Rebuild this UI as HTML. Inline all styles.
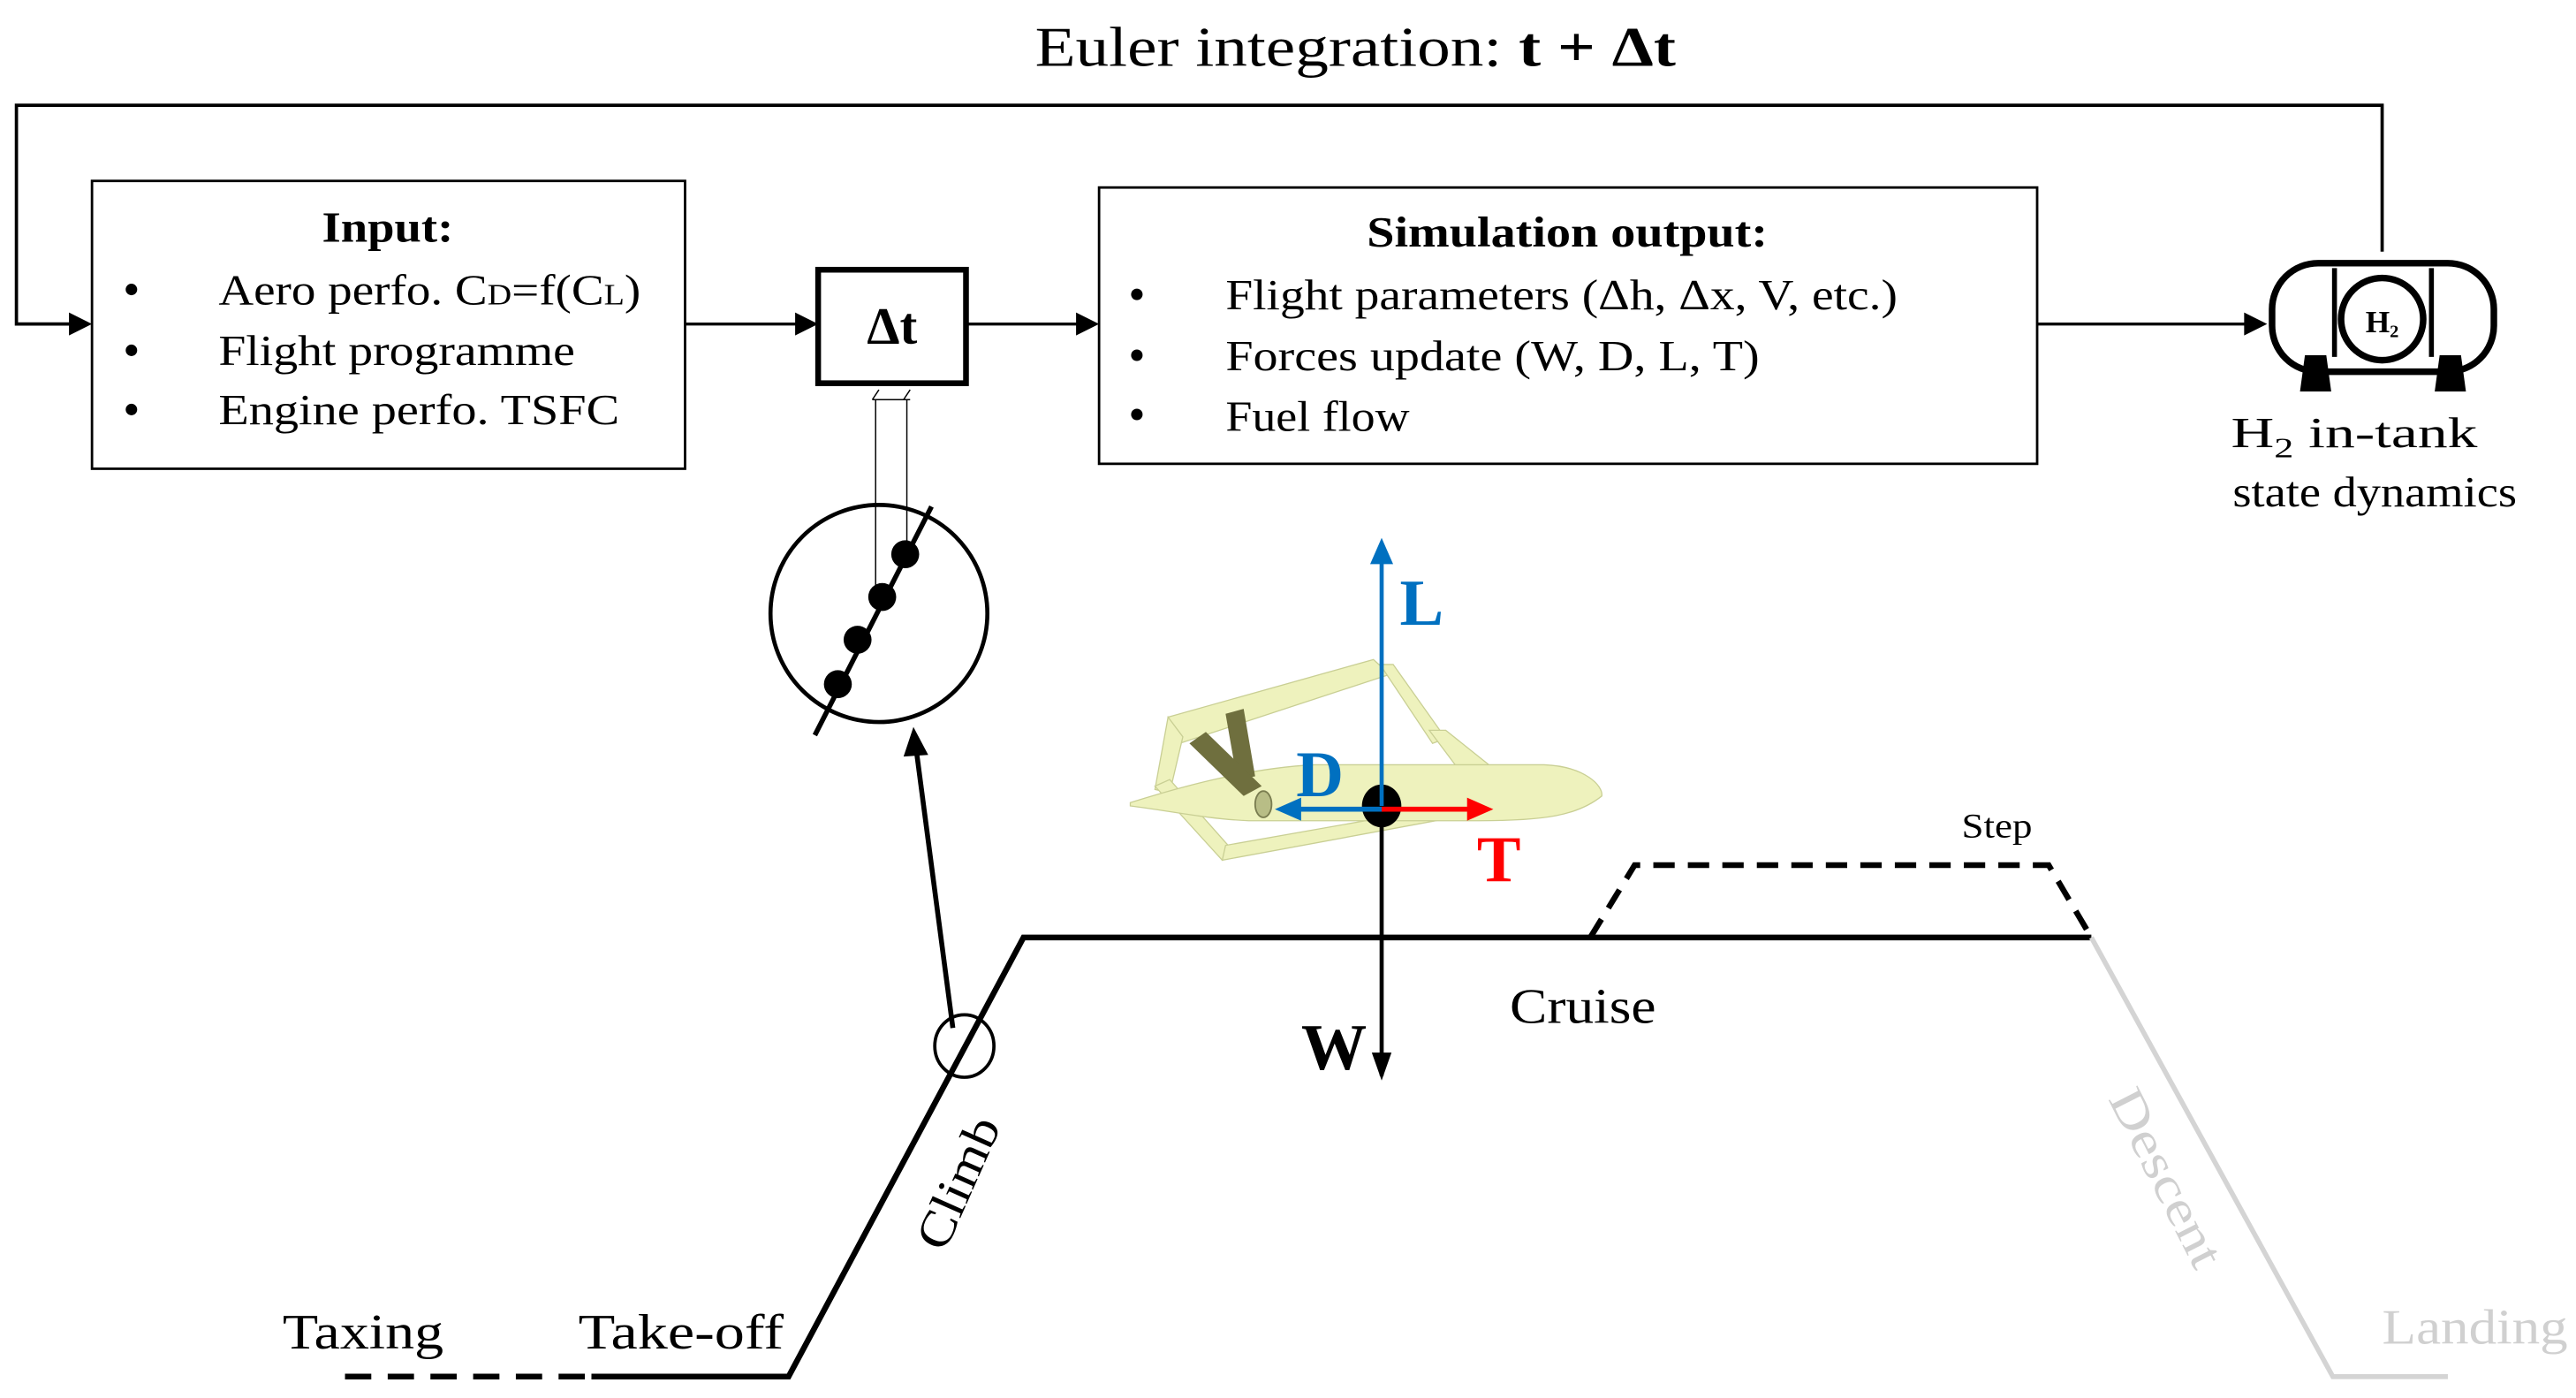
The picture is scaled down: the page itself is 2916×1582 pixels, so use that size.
<!DOCTYPE html>
<html><head><meta charset="utf-8"><style>
html,body{margin:0;padding:0;background:#fff;}
svg{display:block;}
text{font-family:"Liberation Serif",serif;}
</style></head><body>
<svg width="2916" height="1582" viewBox="0 0 1568 850" preserveAspectRatio="none" xmlns="http://www.w3.org/2000/svg">
<rect width="1568" height="850" fill="#fff"/>

<!-- title -->
<text x="630" y="40" font-size="34" textLength="390" lengthAdjust="spacingAndGlyphs">Euler integration: <tspan font-weight="bold">t + Δt</tspan></text>

<!-- feedback loop -->
<polyline points="1450,153 1450,64 10,64 10,197 44,197" fill="none" stroke="#000" stroke-width="2"/>
<path d="M42,190 L56,197 L42,204 z"/>

<!-- Input box -->
<rect x="56" y="110" width="361" height="175" fill="none" stroke="#000" stroke-width="1.5"/>
<text x="196" y="147" font-size="26" font-weight="bold" textLength="80" lengthAdjust="spacingAndGlyphs">Input:</text>
<g font-size="26">
<circle cx="80" cy="176" r="3.5"/><circle cx="80" cy="213" r="3.5"/><circle cx="80" cy="249" r="3.5"/>
<text x="133" y="185" textLength="257" lengthAdjust="spacingAndGlyphs">Aero perfo. C<tspan font-size="18">D</tspan>=f(C<tspan font-size="18">L</tspan>)</text>
<text x="133" y="222" textLength="217" lengthAdjust="spacingAndGlyphs">Flight programme</text>
<text x="133" y="258" textLength="244" lengthAdjust="spacingAndGlyphs">Engine perfo. TSFC</text>
</g>

<!-- arrows to Δt -->
<line x1="417" y1="197" x2="485" y2="197" stroke="#000" stroke-width="1.8"/>
<path d="M484,190 L498,197 L484,204 z"/>
<rect x="498" y="164" width="90" height="69" fill="none" stroke="#000" stroke-width="3.5"/>
<text x="543" y="209" font-size="32" font-weight="bold" text-anchor="middle" font-family="Liberation Sans, sans-serif">Δt</text>
<line x1="588" y1="197" x2="656" y2="197" stroke="#000" stroke-width="1.8"/>
<path d="M655,190 L669,197 L655,204 z"/>

<!-- Output box -->
<rect x="669" y="114" width="571" height="168" fill="none" stroke="#000" stroke-width="1.5"/>
<text x="832" y="150" font-size="26" font-weight="bold" textLength="244" lengthAdjust="spacingAndGlyphs">Simulation output:</text>
<g font-size="26">
<circle cx="692" cy="179" r="3.5"/><circle cx="692" cy="216" r="3.5"/><circle cx="692" cy="252" r="3.5"/>
<text x="746" y="188" textLength="409" lengthAdjust="spacingAndGlyphs">Flight parameters (Δh, Δx, V, etc.)</text>
<text x="746" y="225" textLength="325" lengthAdjust="spacingAndGlyphs">Forces update (W, D, L, T)</text>
<text x="746" y="262" textLength="112" lengthAdjust="spacingAndGlyphs">Fuel flow</text>
</g>
<line x1="1240" y1="197" x2="1368" y2="197" stroke="#000" stroke-width="1.8"/>
<path d="M1366,190 L1380,197 L1366,204 z"/>

<!-- Tank -->
<rect x="1383" y="160" width="135" height="66" rx="28" ry="28" fill="none" stroke="#000" stroke-width="4"/>
<line x1="1421" y1="163" x2="1421" y2="217" stroke="#000" stroke-width="3"/>
<line x1="1480" y1="163" x2="1480" y2="217" stroke="#000" stroke-width="3"/>
<circle cx="1450" cy="194" r="25" fill="#fff" stroke="#000" stroke-width="4"/>
<text x="1450" y="202" font-size="19" font-weight="bold" text-anchor="middle" font-family="Liberation Sans, sans-serif">H<tspan font-size="11" dy="3">2</tspan></text>
<path d="M1403,216 L1416,216 L1419,238 L1400,238 z"/>
<path d="M1485,216 L1498,216 L1501,238 L1482,238 z"/>
<text x="1358" y="272" font-size="26" textLength="150" lengthAdjust="spacingAndGlyphs">H<tspan font-size="17" dy="6">2</tspan><tspan dy="-6"> in-tank</tspan></text>
<text x="1359" y="308" font-size="26" textLength="173" lengthAdjust="spacingAndGlyphs">state dynamics</text>

<!-- zoom connector -->
<line x1="533" y1="243" x2="533" y2="363" stroke="#000" stroke-width="0.8"/>
<line x1="552" y1="243" x2="552" y2="337" stroke="#000" stroke-width="0.8"/>
<line x1="531" y1="243" x2="554" y2="243" stroke="#000" stroke-width="0.8"/>
<line x1="531" y1="243" x2="535" y2="237" stroke="#000" stroke-width="0.8"/>
<line x1="550" y1="243" x2="554" y2="237" stroke="#000" stroke-width="0.8"/>
<ellipse cx="535" cy="373" rx="66" ry="66" fill="none" stroke="#000" stroke-width="2.5"/>
<line x1="496" y1="447" x2="567" y2="308" stroke="#000" stroke-width="3"/>
<circle cx="510" cy="416" r="8.5"/><circle cx="522" cy="389" r="8.5"/><circle cx="537" cy="363" r="8.5"/><circle cx="551" cy="337" r="8.5"/>
<line x1="580" y1="625" x2="558" y2="458" stroke="#000" stroke-width="3"/>
<path d="M550,460 L556,442 L565,459 z"/>

<!-- flight profile -->
<line x1="210" y1="837" x2="360" y2="837" stroke="#000" stroke-width="3.5" stroke-dasharray="16,10"/>
<polyline points="360,837 480,837 623,570 1273,570" fill="none" stroke="#000" stroke-width="3.5"/>
<polyline points="968,570 995,526 1247,526 1273,570" fill="none" stroke="#000" stroke-width="3.5" stroke-dasharray="13,8"/>
<polyline points="1273,570 1420,837 1490,837" fill="none" stroke="#d4d4d4" stroke-width="3"/>
<ellipse cx="587" cy="636" rx="18" ry="19" fill="none" stroke="#000" stroke-width="2"/>

<g font-size="30">
<text x="172" y="820" textLength="98" lengthAdjust="spacingAndGlyphs">Taxing</text>
<text x="352" y="820" textLength="125" lengthAdjust="spacingAndGlyphs">Take-off</text>
<text x="919" y="622" textLength="89" lengthAdjust="spacingAndGlyphs">Cruise</text>
<text x="1450" y="817" textLength="113" lengthAdjust="spacingAndGlyphs" fill="#d0d0d0">Landing</text>
<text transform="translate(575,762) rotate(-66)" textLength="85" lengthAdjust="spacingAndGlyphs">Climb</text>
<text transform="translate(1283,668) rotate(63)" textLength="118" lengthAdjust="spacingAndGlyphs" fill="#d0d0d0">Descent</text>
</g>
<text x="1194" y="509" font-size="21" textLength="43" lengthAdjust="spacingAndGlyphs">Step</text>

<!-- airplane -->
<g fill="#eef2bd" stroke="#c9cf94" stroke-width="0.7">
<polygon points="711,436 836,401 846,410 718,452"/>
<polygon points="840,404 848,404 880,449 872,452"/>
<polygon points="870,444 880,444 910,468 888,468"/>
<polygon points="711,436 720,448 712,482 703,480"/>
<polygon points="703,478 712,474 752,519 744,523"/>
<polygon points="744,523 746,514 905,486 912,492"/>
<path d="M688,488 C720,478 760,467 800,465 L940,465 C965,466 976,478 975,484 C960,496 940,499 900,499 L760,499 C735,498 712,493 688,490 z"/>
</g>
<g fill="#6f6f3e">
<polygon points="746,434 757,431 764,472 753,474"/>
<polygon points="724,452 734,445 768,478 757,484"/>
</g>
<ellipse cx="769" cy="489" rx="5" ry="8" fill="#b8bd86" stroke="#7a7d50" stroke-width="1"/>

<!-- forces -->
<line x1="841" y1="490" x2="841" y2="654" stroke="#000" stroke-width="2.5"/>
<path d="M835,640 L841,657 L847,640 z"/>
<ellipse cx="841" cy="490" rx="12" ry="13" fill="#000"/>
<line x1="841" y1="490" x2="841" y2="340" stroke="#0070c0" stroke-width="2.5"/>
<path d="M834,343 L841,327 L848,343 z" fill="#0070c0"/>
<line x1="841" y1="492" x2="790" y2="492" stroke="#0070c0" stroke-width="3"/>
<path d="M792,485 L776,492 L792,499 z" fill="#0070c0"/>
<line x1="841" y1="492" x2="895" y2="492" stroke="#ff0000" stroke-width="3"/>
<path d="M893,485 L909,492 L893,499 z" fill="#ff0000"/>
<text x="852" y="380" font-size="40" font-weight="bold" fill="#0070c0">L</text>
<text x="789" y="484" font-size="40" font-weight="bold" fill="#0070c0">D</text>
<text x="899" y="536" font-size="40" font-weight="bold" fill="#ff0000">T</text>
<text x="792" y="650" font-size="40" font-weight="bold">W</text>
</svg>
</body></html>
